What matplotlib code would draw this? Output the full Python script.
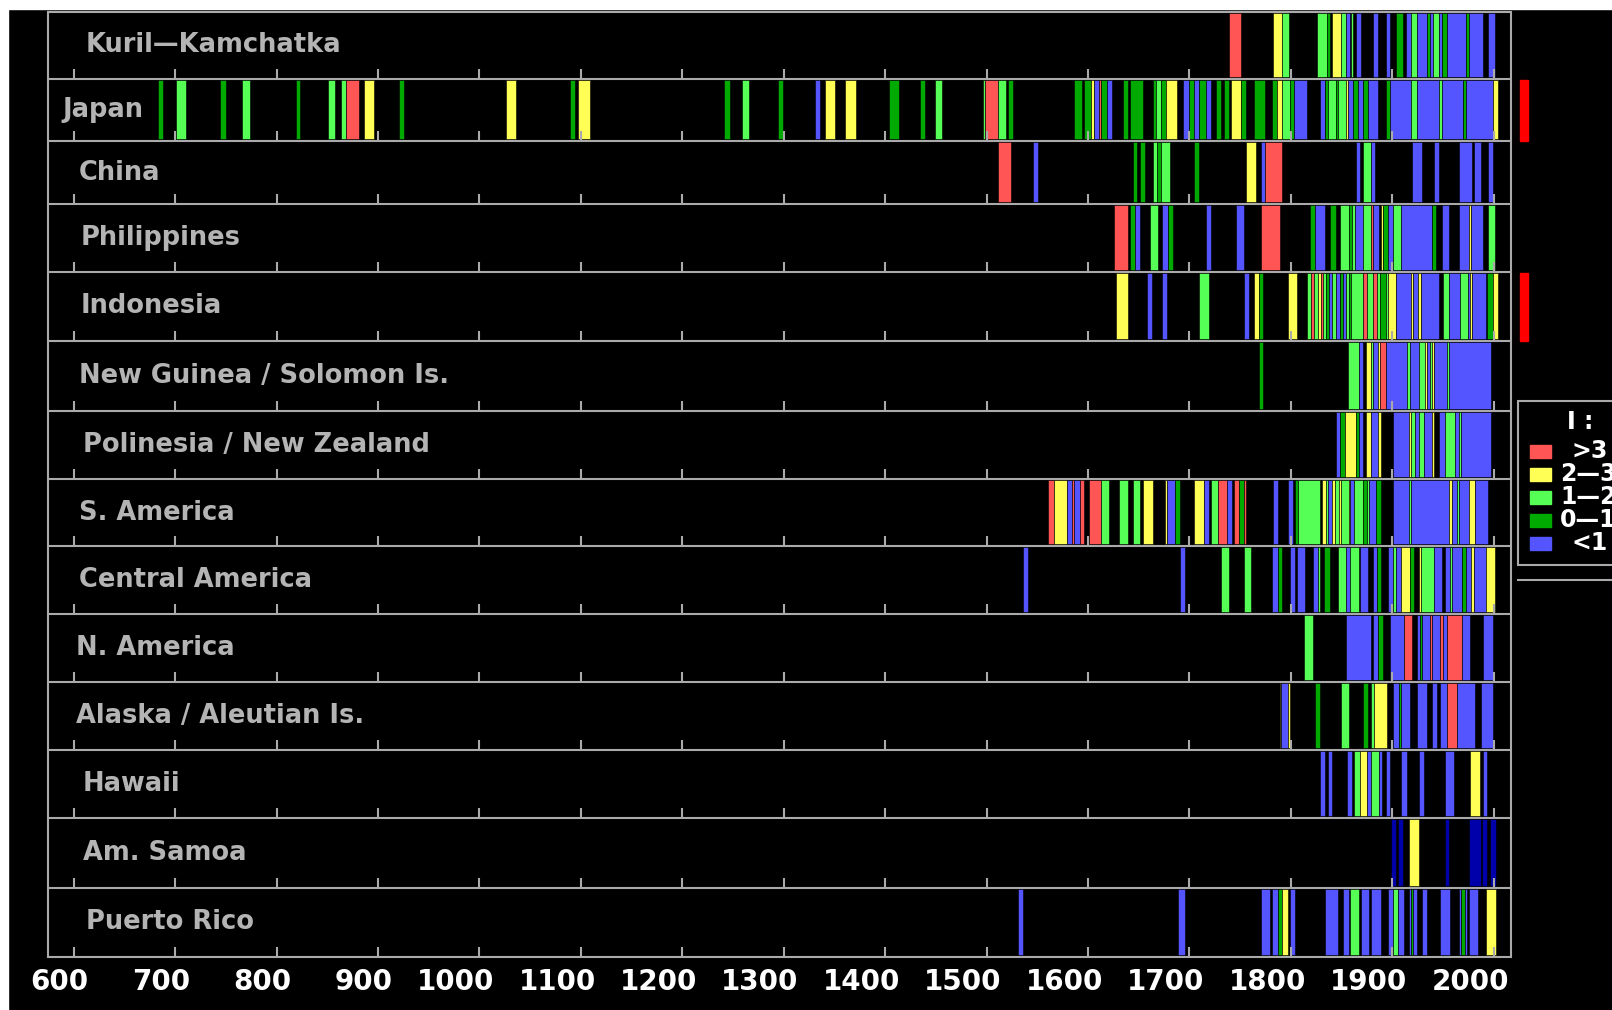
import matplotlib
matplotlib.use('Agg')
import matplotlib.pyplot as plt
import matplotlib.transforms as mtransforms
from matplotlib.patches import Rectangle

# regions, top to bottom
regions = ['Kuril\u2014Kamchatka', 'Japan', 'China', 'Philippines', 'Indonesia',
           'New Guinea / Solomon Is.', 'Polinesia / New Zealand', 'S. America',
           'Central America', 'N. America', 'Alaska / Aleutian Is.', 'Hawaii',
           'Am. Samoa', 'Puerto Rico']

# intensity classes
cat_codes = ['r', 'y', 'g', 'd', 'b', 'n']
cat_colors = ['#ff5555', '#ffff55', '#55ff55', '#00aa00', '#5555ff', '#0000aa']
legend_labels = ['>3', '2\u20143', '1\u20142', '0\u20141', '<1']

# events per region: (start year, end year, class)
kuril = [(1739, 1751, 'r'), (1782, 1791, 'y'), (1791, 1798, 'g'), (1826, 1836, 'g'), (1836, 1839, 'd'),
         (1841, 1849, 'y'), (1849, 1854, 'g'), (1854, 1858, 'b'), (1859, 1861, 'g'), (1864, 1869, 'b'),
         (1881, 1886, 'b'), (1894, 1898, 'b'), (1904, 1911, 'd'), (1913, 1918, 'b'), (1918, 1924, 'g'),
         (1924, 1934, 'b'), (1934, 1937, 'd'), (1937, 1940, 'b'), (1940, 1946, 'g'), (1946, 1949, 'b'),
         (1949, 1954, 'd'), (1954, 1973, 'b'), (1973, 1976, 'd'), (1976, 1989, 'b'), (1994, 2001, 'b')]
japan = [(683, 688, 'd'), (701, 711, 'g'), (744, 750, 'd'), (766, 774, 'g'), (819, 823, 'd'), (851, 858, 'g'),
         (864, 868, 'g'), (868, 881, 'r'), (886, 896, 'y'), (921, 926, 'd'), (1026, 1036, 'y'),
         (1089, 1094, 'd'), (1097, 1109, 'y'), (1241, 1247, 'd'), (1259, 1266, 'g'), (1294, 1299, 'd'),
         (1331, 1336, 'b'), (1341, 1351, 'y'), (1360, 1371, 'y'), (1404, 1414, 'd'), (1434, 1439, 'd'),
         (1449, 1456, 'g'), (1496, 1498, 'g'), (1498, 1511, 'r'), (1511, 1519, 'g'), (1521, 1526, 'd'),
         (1586, 1594, 'd'), (1596, 1603, 'd'), (1603, 1606, 'y'), (1606, 1611, 'b'), (1611, 1613, 'r'),
         (1613, 1619, 'd'), (1619, 1624, 'b'), (1634, 1639, 'd'), (1641, 1654, 'd'), (1664, 1667, 'd'),
         (1667, 1672, 'g'), (1672, 1677, 'd'), (1677, 1688, 'y'), (1694, 1700, 'b'), (1700, 1704, 'd'),
         (1704, 1709, 'b'), (1709, 1716, 'd'), (1716, 1721, 'b'), (1726, 1731, 'd'), (1734, 1739, 'd'),
         (1741, 1751, 'y'), (1751, 1756, 'd'), (1764, 1774, 'd'), (1781, 1786, 'd'), (1786, 1791, 'y'),
         (1791, 1799, 'g'), (1799, 1803, 'd'), (1803, 1816, 'b'), (1829, 1834, 'b'), (1834, 1837, 'd'),
         (1837, 1844, 'g'), (1844, 1846, 'd'), (1846, 1854, 'g'), (1854, 1856, 'y'), (1856, 1861, 'b'),
         (1861, 1866, 'd'), (1866, 1871, 'b'), (1871, 1876, 'd'), (1876, 1886, 'b'), (1894, 1898, 'd'),
         (1898, 1918, 'b'), (1918, 1924, 'g'), (1924, 1946, 'b'), (1946, 1949, 'g'), (1949, 1970, 'b'),
         (1970, 1973, 'd'), (1973, 1999, 'b'), (1999, 2004, 'y')]
china = [(1511, 1524, 'r'), (1546, 1551, 'b'), (1644, 1648, 'd'), (1651, 1656, 'd'), (1664, 1668, 'g'),
         (1668, 1672, 'd'), (1672, 1681, 'g'), (1704, 1709, 'd'), (1756, 1766, 'y'), (1771, 1774, 'b'),
         (1774, 1791, 'r'), (1864, 1868, 'b'), (1871, 1879, 'g'), (1879, 1883, 'b'), (1919, 1929, 'b'),
         (1941, 1946, 'b'), (1966, 1979, 'b'), (1981, 1987, 'b'), (1994, 1999, 'b')]
philippines = [(1626, 1639, 'r'), (1641, 1646, 'd'), (1646, 1651, 'b'), (1661, 1669, 'g'), (1673, 1679, 'b'),
               (1679, 1684, 'd'), (1716, 1721, 'b'), (1746, 1754, 'b'), (1771, 1789, 'r'), (1819, 1824, 'd'),
               (1824, 1834, 'b'), (1839, 1844, 'd'), (1848, 1857, 'g'), (1857, 1860, 'd'), (1860, 1863, 'g'),
               (1863, 1871, 'b'), (1871, 1879, 'g'), (1879, 1881, 'r'), (1881, 1887, 'b'), (1889, 1891, 'y'),
               (1891, 1896, 'd'), (1896, 1901, 'b'), (1901, 1909, 'g'), (1909, 1939, 'b'), (1939, 1943, 'd'),
               (1949, 1956, 'b'), (1966, 1976, 'b'), (1976, 1978, 'y'), (1978, 1989, 'b'), (1994, 2001, 'g')]
indonesia = [(1628, 1639, 'y'), (1658, 1663, 'b'), (1673, 1678, 'b'), (1709, 1719, 'g'), (1754, 1759, 'b'),
             (1764, 1769, 'y'), (1769, 1773, 'd'), (1797, 1806, 'y'), (1816, 1820, 'g'), (1820, 1823, 'r'),
             (1823, 1827, 'g'), (1827, 1830, 'y'), (1830, 1832, 'r'), (1832, 1835, 'g'), (1835, 1838, 'd'),
             (1838, 1841, 'b'), (1841, 1844, 'g'), (1844, 1848, 'b'), (1848, 1851, 'd'), (1851, 1854, 'b'),
             (1854, 1857, 'g'), (1857, 1859, 'd'), (1859, 1871, 'g'), (1871, 1875, 'r'), (1875, 1881, 'g'),
             (1881, 1885, 'r'), (1885, 1888, 'g'), (1888, 1894, 'd'), (1894, 1896, 'g'), (1896, 1904, 'y'),
             (1904, 1918, 'b'), (1918, 1920, 'y'), (1920, 1925, 'b'), (1925, 1928, 'y'), (1928, 1946, 'b'),
             (1950, 1956, 'g'), (1956, 1967, 'b'), (1967, 1975, 'g'), (1975, 1977, 'b'), (1977, 1979, 'y'),
             (1979, 1992, 'b'), (1993, 1999, 'd'), (1999, 2004, 'y')]
new_guinea = [(1769, 1773, 'd'), (1856, 1867, 'g'), (1867, 1871, 'b'), (1874, 1879, 'y'), (1879, 1881, 'g'),
              (1881, 1886, 'b'), (1886, 1888, 'y'), (1888, 1894, 'r'), (1894, 1914, 'b'), (1914, 1917, 'g'),
              (1917, 1926, 'b'), (1926, 1932, 'g'), (1932, 1934, 'y'), (1934, 1937, 'b'), (1937, 1939, 'g'),
              (1939, 1941, 'y'), (1941, 1954, 'b'), (1954, 1956, 'g'), (1956, 1997, 'b')]
polinesia = [(1844, 1848, 'b'), (1848, 1853, 'd'), (1853, 1864, 'y'), (1864, 1867, 'd'), (1867, 1871, 'b'),
             (1874, 1879, 'y'), (1879, 1886, 'b'), (1886, 1889, 'y'), (1901, 1916, 'b'), (1916, 1918, 'y'),
             (1918, 1922, 'g'), (1922, 1926, 'b'), (1926, 1931, 'g'), (1931, 1939, 'b'), (1939, 1941, 'y'),
             (1946, 1952, 'b'), (1952, 1962, 'g'), (1962, 1966, 'b'), (1966, 1968, 'g'), (1968, 1997, 'b')]
s_america = [(1561, 1566, 'r'), (1566, 1579, 'y'), (1579, 1584, 'b'), (1584, 1586, 'r'), (1586, 1592, 'b'),
             (1592, 1596, 'r'), (1601, 1613, 'r'), (1613, 1621, 'g'), (1631, 1639, 'g'), (1644, 1651, 'g'),
             (1654, 1664, 'y'), (1676, 1678, 'y'), (1678, 1686, 'b'), (1686, 1691, 'd'), (1704, 1714, 'y'),
             (1714, 1719, 'b'), (1721, 1728, 'g'), (1728, 1737, 'r'), (1737, 1742, 'b'), (1744, 1749, 'r'),
             (1749, 1754, 'd'), (1754, 1756, 'r'), (1782, 1787, 'b'), (1797, 1802, 'b'), (1804, 1807, 'd'),
             (1807, 1829, 'g'), (1831, 1835, 'y'), (1835, 1837, 'g'), (1837, 1841, 'b'), (1841, 1843, 'y'),
             (1843, 1847, 'g'), (1847, 1849, 'y'), (1849, 1857, 'g'), (1857, 1858, 'y'), (1858, 1862, 'b'),
             (1862, 1871, 'g'), (1871, 1875, 'd'), (1875, 1877, 'g'), (1877, 1884, 'b'), (1884, 1889, 'd'),
             (1901, 1916, 'b'), (1916, 1918, 'g'), (1918, 1956, 'b'), (1956, 1959, 'y'), (1959, 1964, 'b'),
             (1964, 1966, 'g'), (1966, 1976, 'b'), (1976, 1982, 'y'), (1982, 1994, 'b')]
central_america = [(1536, 1541, 'b'), (1691, 1696, 'b'), (1731, 1739, 'g'), (1754, 1761, 'g'), (1781, 1787, 'b'),
                   (1787, 1791, 'd'), (1799, 1804, 'b'), (1806, 1814, 'b'), (1822, 1827, 'b'), (1827, 1829, 'g'),
                   (1833, 1839, 'd'), (1846, 1854, 'g'), (1854, 1858, 'b'), (1858, 1867, 'g'), (1868, 1876, 'b'),
                   (1881, 1885, 'b'), (1885, 1889, 'd'), (1896, 1901, 'b'), (1901, 1904, 'g'), (1904, 1909, 'b'),
                   (1909, 1917, 'y'), (1917, 1921, 'd'), (1926, 1928, 'y'), (1928, 1941, 'g'), (1941, 1949, 'b'),
                   (1952, 1957, 'b'), (1957, 1959, 'g'), (1959, 1969, 'b'), (1969, 1973, 'd'), (1973, 1978, 'b'),
                   (1978, 1981, 'y'), (1981, 1992, 'b'), (1992, 2001, 'y')]
n_america = [(1813, 1822, 'g'), (1854, 1879, 'b'), (1881, 1886, 'b'), (1886, 1891, 'd'), (1898, 1912, 'b'),
             (1912, 1919, 'r'), (1924, 1927, 'b'), (1927, 1929, 'd'), (1929, 1937, 'b'), (1937, 1939, 'r'),
             (1939, 1947, 'b'), (1947, 1950, 'r'), (1950, 1954, 'b'), (1954, 1969, 'r'), (1969, 1977, 'b'),
             (1989, 1999, 'b')]
alaska = [(1789, 1790, 'y'), (1790, 1797, 'b'), (1797, 1799, 'y'), (1824, 1829, 'd'), (1849, 1857, 'g'),
          (1871, 1876, 'd'), (1879, 1882, 'g'), (1882, 1895, 'y'), (1901, 1907, 'b'), (1907, 1909, 'd'),
          (1909, 1917, 'b'), (1924, 1934, 'b'), (1939, 1944, 'b'), (1947, 1954, 'b'), (1954, 1964, 'r'),
          (1964, 1982, 'b'), (1987, 1999, 'b')]
hawaii = [(1829, 1834, 'b'), (1837, 1841, 'b'), (1855, 1860, 'b'), (1862, 1868, 'g'), (1868, 1875, 'y'),
          (1875, 1879, 'b'), (1879, 1887, 'g'), (1887, 1890, 'b'), (1894, 1898, 'b'), (1909, 1914, 'b'),
          (1926, 1931, 'b'), (1952, 1961, 'b'), (1977, 1986, 'y'), (1989, 1993, 'b')]
am_samoa = [(1899, 1904, 'n'), (1906, 1911, 'n'), (1916, 1926, 'y'), (1952, 1956, 'n'), (1976, 1987, 'n'),
            (1988, 1993, 'n'), (1996, 2002, 'n')]
puerto_rico = [(1531, 1536, 'b'), (1689, 1696, 'b'), (1771, 1779, 'b'), (1781, 1787, 'b'), (1787, 1791, 'd'),
               (1791, 1797, 'y'), (1799, 1804, 'b'), (1834, 1846, 'b'), (1851, 1857, 'b'), (1858, 1867, 'g'),
               (1869, 1877, 'b'), (1879, 1889, 'b'), (1896, 1901, 'b'), (1901, 1906, 'g'), (1906, 1912, 'b'),
               (1916, 1918, 'b'), (1918, 1920, 'd'), (1920, 1924, 'b'), (1929, 1934, 'b'), (1947, 1957, 'b'),
               (1966, 1968, 'b'), (1968, 1972, 'd'), (1972, 1974, 'b'), (1976, 1984, 'b'), (1992, 2002, 'y')]

events = [kuril, japan, china, philippines, indonesia, new_guinea, polinesia, s_america,
          central_america, n_america, alaska, hawaii, am_samoa, puerto_rico]
flagged = ['Japan', 'Indonesia']
years = list(range(600, 2001, 100))

# ---- layout (pixels of the 1612x1010 picture) ----
W, H = 1612, 1010
gray = '#aaaaaa'
lw = 1.5
row_edges = [11.7, 79, 141.5, 204.5, 271.7, 341, 410.7, 479, 546.3, 614, 682.3, 750, 818, 888.3, 956.7]
label_x_px = [86, 62, 79, 81, 81, 79, 83, 79, 79, 76, 76, 83, 83, 86]
color_of = dict(zip(cat_codes, cat_colors))
n = len(regions)

fig = plt.figure(figsize=(W / 100, H / 100), dpi=100, facecolor='black')
ax = fig.add_axes([48 / W, 1 - row_edges[-1] / H, (1511 - 48) / W, (row_edges[-1] - row_edges[0]) / H])
ax.set_facecolor('black')
x0, x1 = 574.7, 2017
ax.set_xlim(x0, x1)
ax.set_ylim(row_edges[-1], row_edges[0])
ax.axis('off')

for i, ev in enumerate(events):
    top, bot = row_edges[i], row_edges[i + 1]
    ax.broken_barh([(s, e - s) for s, e, c in ev], (top + 1, bot - top - 3),
                   facecolors=[color_of[c] for s, e, c in ev],
                   edgecolor='black', linewidth=0.4)

# row boxes and century ticks
for yv in row_edges:
    ax.plot([x0, x1], [yv, yv], color=gray, lw=lw, clip_on=False, solid_capstyle='butt')
ax.plot([x0, x0], [row_edges[0], row_edges[-1]], color=gray, lw=lw, clip_on=False)
ax.plot([x1, x1], [row_edges[0], row_edges[-1]], color=gray, lw=lw, clip_on=False)
for i in range(n):
    ax.vlines(years, row_edges[i + 1] - 10, row_edges[i + 1], color=gray, lw=lw)

# region names
lab_tr = mtransforms.blended_transform_factory(fig.transFigure, ax.transData)
for i, name in enumerate(regions):
    ax.text(label_x_px[i] / W, (row_edges[i] + row_edges[i + 1]) / 2, name, transform=lab_tr,
            color='#b4b4b4', fontsize=18.5, fontweight='bold', va='center', ha='left')

# year labels
yr_tr = mtransforms.offset_copy(
    mtransforms.blended_transform_factory(ax.transData, fig.transFigure),
    fig=fig, x=15, y=0, units='dots')
for y in years:
    ax.text(y, 1 - 982 / H, str(y), transform=yr_tr, color='white', fontsize=20,
            fontweight='bold', ha='right', va='center', clip_on=False)

# flagged regions marker
for name in flagged:
    i = regions.index(name)
    ax.add_patch(Rectangle((2026, row_edges[i] + 1), 8, row_edges[i + 1] - row_edges[i] - 1,
                           color='#ff0000', clip_on=False))

# legend (cut by the right edge)
def px(x, y):
    return x / W, 1 - y / H

lx, ly = px(1518, 565)
fig.patches.append(Rectangle((lx, ly), 0.2, (565 - 401) / H, transform=fig.transFigure,
                             facecolor='black', edgecolor=gray, lw=lw))
fig.lines.append(plt.Line2D([1518 / W, 1], [1 - 580 / H] * 2, transform=fig.transFigure,
                            color=gray, lw=lw))
fig.text(*px(1580, 422), 'I :', color='white', fontsize=17, fontweight='bold',
         ha='center', va='center')
for k, lab in enumerate(legend_labels):
    yc = 451 + k * 23
    fig.patches.append(Rectangle(px(1530, yc + 6.5), 21 / W, 13 / H, transform=fig.transFigure,
                                 color=cat_colors[k]))
    tx = 1571 if lab[0] in '<>' else 1560
    fig.text(*px(tx, yc), lab, color='white', fontsize=17, fontweight='bold',
             ha='left', va='center')

# white borders of the original screenshot
fig.patches.append(Rectangle((0, 1 - 9 / H), 1, 9 / H, transform=fig.transFigure, color='white'))
fig.patches.append(Rectangle((0, 0), 8 / W, 1, transform=fig.transFigure, color='white'))

fig.savefig('out.png', dpi=100, facecolor='black')
